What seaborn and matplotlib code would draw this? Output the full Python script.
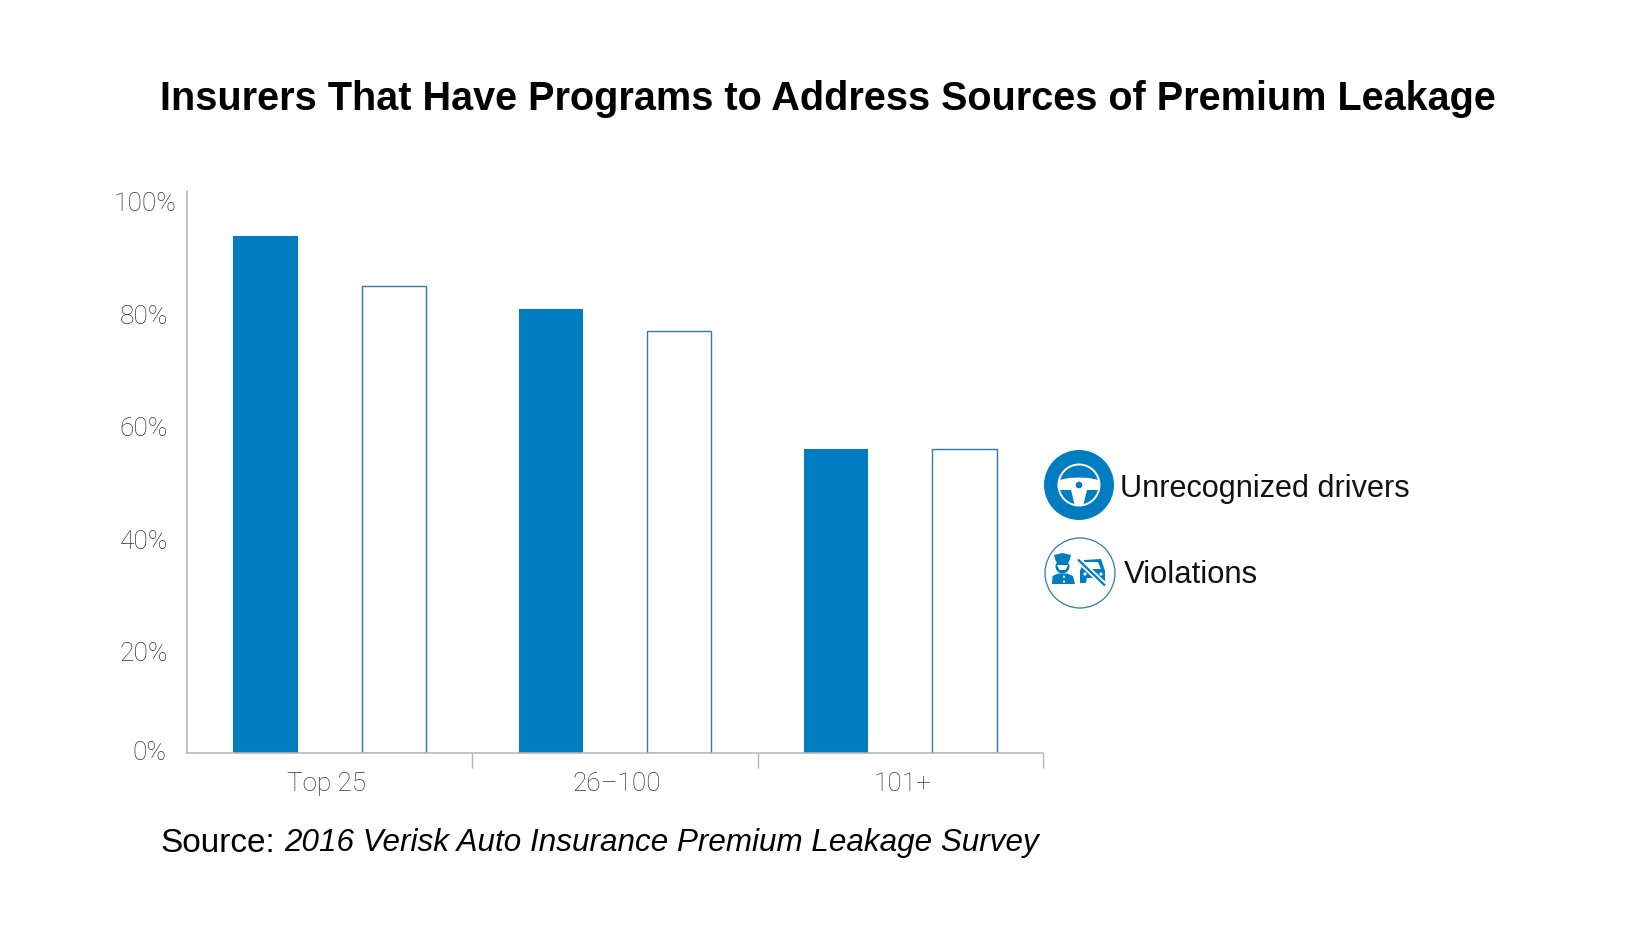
# import libraries
import pandas as pd
import matplotlib.pyplot as plt
from matplotlib.patches import Circle, Polygon
from matplotlib.transforms import ScaledTranslation
import seaborn as sns

# values
groups = ['Top 25', '26–100', '101+']
unrecognized = [94, 80.7, 55.3]
violations = [84.8, 76.7, 55.3]
y_ticks = [0, 20, 40, 60, 80, 100]
y_tick_labels = ['0%', '20%', '40%', '60%', '80%', '100%']

BLUE = '#007dc1'
EDGE = '#2f7da6'
GREY = '#333333'
AXIS = '#b4b4b4'
W, H = 1650, 941


def fx(px):
    return px / W


def fy(px):
    return 1 - px / H


def draw_wheel(ax, cx, cy):
    ax.add_patch(Circle((cx, cy), 35, fc=BLUE, ec='none'))
    ax.add_patch(Circle((cx, cy), 21.5, fc='white', ec='none'))
    ax.add_patch(Circle((cx, cy), 19.5, fc=BLUE, ec='none'))
    # spokes of the wheel, pixel y goes down
    band = Polygon([(cx - 20, cy - 5), (cx - 10, cy - 7), (cx, cy - 7.5), (cx + 10, cy - 7),
                    (cx + 20, cy - 5), (cx + 20, cy + 5), (cx + 8, cy + 5), (cx + 4, cy + 21),
                    (cx - 4, cy + 21), (cx - 8, cy + 5), (cx - 20, cy + 5)],
                   fc='white', ec='none')
    ax.add_patch(band)
    band.set_clip_path(Circle((cx, cy), 20, transform=ax.transData))
    ax.add_patch(Circle((cx, cy), 3.3, fc=BLUE, ec='none'))


def draw_officer_car(ax, cx, cy):
    ax.add_patch(Circle((cx, cy), 35, fc='white', ec=EDGE, lw=0.9))
    # officer
    ax.add_patch(Polygon([(cx - 26, cy - 18), (cx - 17.5, cy - 20), (cx - 9, cy - 18), (cx - 11, cy - 11),
                          (cx - 24, cy - 11)], fc=BLUE, ec='none'))
    ax.add_patch(Circle((cx - 17.5, cy - 6.5), 7, fc=BLUE, ec='none'))
    ax.add_patch(Polygon([(cx - 23, cy - 8), (cx - 12, cy - 8), (cx - 14.5, cy - 3), (cx - 20.5, cy - 3)],
                         fc='white', ec='none'))
    ax.add_patch(Polygon([(cx - 28, cy + 11), (cx - 27.5, cy + 3), (cx - 22, cy + 0.5), (cx - 13, cy + 0.5),
                          (cx - 7, cy + 3), (cx - 5, cy + 11)], fc=BLUE, ec='none'))
    ax.add_patch(Circle((cx - 16, cy + 3.6), 1.1, fc='white', ec='none'))
    ax.add_patch(Circle((cx - 16, cy + 8.6), 1.1, fc='white', ec='none'))
    # car with a slash through it
    ax.add_patch(Polygon([(cx, cy + 10), (cx, cy - 2), (cx + 4, cy - 13), (cx + 21, cy - 14),
                          (cx + 25, cy - 2), (cx + 25, cy + 8), (cx + 20, cy + 8), (cx + 19, cy + 5),
                          (cx + 7, cy + 5), (cx + 6, cy + 10)], fc=BLUE, ec='none'))
    ax.add_patch(Polygon([(cx + 5, cy - 11), (cx + 18, cy - 11), (cx + 21, cy - 4), (cx + 3, cy - 4)],
                         fc='white', ec='none'))
    ax.add_patch(Circle((cx + 5, cy + 1), 1.6, fc='white', ec='none'))
    ax.add_patch(Circle((cx + 21, cy + 1), 1.6, fc='white', ec='none'))
    ax.plot([cx - 1, cx + 25], [cy - 12.5, cy + 12.5], color='white', lw=4.2, solid_capstyle='butt')
    ax.plot([cx - 2, cx + 25], [cy - 13.5, cy + 12.5], color=BLUE, lw=1.6, solid_capstyle='butt')


def make_chart():
    sns.set_style('white')
    plt.rcParams['font.family'] = ['Liberation Sans', 'DejaVu Sans']

    data = pd.DataFrame({'group': groups,
                         'Unrecognized drivers': unrecognized,
                         'Violations': violations})
    data = data.melt(id_vars='group', var_name='program', value_name='share')

    fig = plt.figure(figsize=(W / 100, H / 100), dpi=100)
    ax = fig.add_axes([fx(187), fy(753), fx(1043) - fx(187), fy(191) - fy(753)])

    sns.barplot(data=data, x='group', y='share', hue='program', order=groups,
                palette=[BLUE, 'white'], saturation=1, width=0.9, gap=0.5, legend=False, ax=ax)

    # second series is only an outline
    n = len(groups)
    for bar in ax.patches[:n]:
        bar.set_edgecolor('none')
    for bar in ax.patches[n:]:
        bar.set_edgecolor(EDGE)
        bar.set_linewidth(1)

    ax.set_xlim(-0.5, n - 0.5)
    ax.set_ylim(0, 102.1)
    ax.set_xlabel('')
    ax.set_ylabel('')

    sns.despine(ax=ax)
    for side in ['left', 'bottom']:
        ax.spines[side].set_color(AXIS)
        ax.spines[side].set_linewidth(1.1)

    ax.set_xticks(range(n), groups)
    ax.set_xticks([0.5, 1.5, 2.5], minor=True)
    ax.tick_params(axis='x', which='major', length=0, pad=14, labelsize=18.8, labelcolor=GREY)
    ax.tick_params(axis='x', which='minor', length=11, width=1, color=AXIS, bottom=True, direction='out')
    for label, right in zip(ax.get_xticklabels(), [-3, 2, 2]):
        label.set_transform(label.get_transform() + ScaledTranslation(right / 100, 0, fig.dpi_scale_trans))

    ax.set_yticks(y_ticks, y_tick_labels)
    ax.tick_params(axis='y', length=0, pad=31, labelsize=19, labelcolor=GREY)
    # the y labels do not sit exactly on their values in the original
    nudges = [(5, 3), (0, -8.5), (0, -7), (0, -4), (0, -2), (1, 1)]
    for label, (right, up) in zip(ax.get_yticklabels(), nudges):
        label.set_ha('center')
        label.set_transform(label.get_transform() + ScaledTranslation(right / 100, up / 100, fig.dpi_scale_trans))

    for label in ax.get_xticklabels() + ax.get_yticklabels():
        label.set_family(['Roboto', 'Liberation Sans'])
        label.set_fontweight('light')

    # overlay in pixel coordinates for the icons
    over = fig.add_axes([0, 0, 1, 1], facecolor='none')
    over.set_xlim(0, W)
    over.set_ylim(H, 0)
    over.axis('off')
    draw_wheel(over, 1079, 485)
    draw_officer_car(over, 1080, 573)

    fig.text(fx(828), fy(99), 'Insurers That Have Programs to Address Sources of Premium Leakage',
             ha='center', va='center', fontsize=28.5, fontweight='bold', color='black')
    fig.text(fx(1120), fy(489), 'Unrecognized drivers', ha='left', va='center', fontsize=22.1, color='#111111')
    fig.text(fx(1124), fy(575), 'Violations', ha='left', va='center', fontsize=22.3, color='#111111')
    fig.text(fx(160), fy(843), 'Source:', ha='left', va='center', fontsize=24, color='black')
    fig.text(fx(284), fy(843), '2016 Verisk Auto Insurance Premium Leakage Survey', ha='left', va='center',
             fontsize=22.6, style='italic', color='black')

    fig.savefig('out.png', dpi=100)


if __name__ == '__main__':
    make_chart()
